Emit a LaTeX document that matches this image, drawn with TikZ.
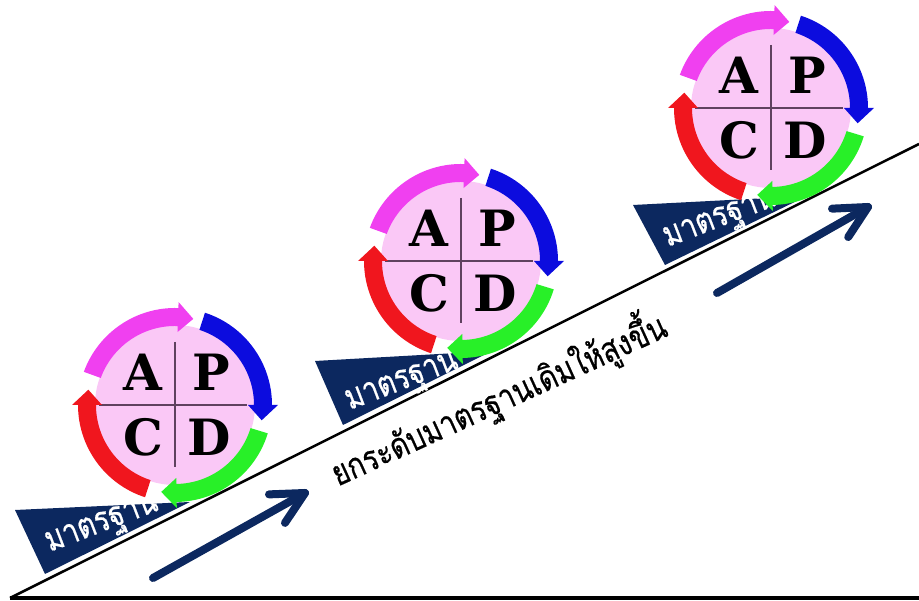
\documentclass[tikz,border=0pt]{standalone}
\usepackage{fontspec}
\usetikzlibrary{calc}
\newfontfamily\thaifont[Script=Thai, FakeStretch=0.8, FakeBold=0.5]{Loma}
\newfontfamily\apcdfont{DejaVu Serif}
\definecolor{pinkfill}{RGB}{250,200,246}
\definecolor{pmag}{RGB}{240,64,240}
\definecolor{pblue}{RGB}{12,12,222}
\definecolor{pgreen}{RGB}{40,240,40}
\definecolor{pred}{RGB}{240,22,30}
\definecolor{navy}{RGB}{12,40,95}
\definecolor{crossgray}{RGB}{95,65,95}
\tikzset{
  letter/.style={font=\apcdfont\bfseries\fontsize{50}{50}\selectfont, text=black, inner sep=0pt, anchor=center},
  crossline/.style={draw=crossgray, line width=1.3pt},
  bannertext/.style={font=\thaifont\fontsize{35}{38}\selectfont, text=white, rotate=21, anchor=mid, inner sep=0pt},
  maintext/.style={font=\thaifont\fontsize{35}{38}\selectfont, text=black, rotate=24.5, anchor=mid, inner sep=0pt},
  slopeline/.style={draw=black, line width=2.5pt},
  baseline/.style={draw=black, line width=4pt},
  banner/.style={fill=navy},
  uparrow/.style={draw=navy, line width=8pt, line cap=round, line join=round},
  pics/pdca/.style={code={
    \fill[pinkfill] (0,0) circle[radius=80pt];
    \draw[crossline] (-76pt,0) -- (72pt,0);
    \draw[crossline] (0,63pt) -- (0,-62pt);
    \foreach \s/\c [evaluate=\s as \e using \s-72, evaluate=\s as \t using \s-82] in {160/pmag,72/pblue,-17/pgreen,-108/pred}{
      \fill[\c] (\s:97pt) arc[start angle=\s, end angle=\e, radius=97pt]
        -- (\e:103pt) -- (\t:88pt) -- (\e:73pt) -- (\e:79pt)
        arc[start angle=\e, end angle=\s, radius=79pt] -- cycle;
    }
    \node[letter] (-A) at (-32pt,33pt) {A};
    \node[letter] (-P) at (36pt,33pt) {P};
    \node[letter] (-C) at (-32pt,-32pt) {C};
    \node[letter] (-D) at (34pt,-32pt) {D};
  }}
}
\begin{document}
\begin{tikzpicture}[x=1pt,y=1pt]
\useasboundingbox (0,0) rectangle (919,601);
% banners
\fill[banner] (15,91) -- (190,99) -- (45,27) -- cycle;
\fill[banner] (315,240) -- (492,250) -- (343,176) -- cycle;
\fill[banner] (633,396) -- (807,405) -- (665,336) -- cycle;
% slope and base lines
\coordinate (o) at (10,3);
\coordinate (top) at (919,457);
\coordinate (br) at (919,3);
\draw[slopeline] (o) -- (top);
\draw[baseline] (o) -- (br);
% banner texts
\node[bannertext] (b1) at (104,72) {มาตรฐาน};
\node[bannertext] (b2) at (404,214) {มาตรฐาน};
\node[bannertext] (b3) at (722,377) {มาตรฐาน};
% PDCA circles
\pic (c1) at (175,196) {pdca};
\pic (c2) at (461,340) {pdca};
\pic (c3) at (771,493) {pdca};
% main text
\node[maintext] (raise) at (503,192) {ยกระดับมาตรฐานเดิมให้สูงขึ้น};
% arrows
\coordinate (a1s) at (153,23);
\coordinate (a1e) at (305,108);
\coordinate (a2s) at (717,308);
\coordinate (a2e) at (868,394);
\draw[uparrow] (a1s) -- (a1e);
\draw[uparrow] ($(a1e)!36pt!-27:(a1s)$) -- (a1e) -- ($(a1e)!36pt!27:(a1s)$);
\draw[uparrow] (a2s) -- (a2e);
\draw[uparrow] ($(a2e)!36pt!-27:(a2s)$) -- (a2e) -- ($(a2e)!36pt!27:(a2s)$);
\end{tikzpicture}
\end{document}
